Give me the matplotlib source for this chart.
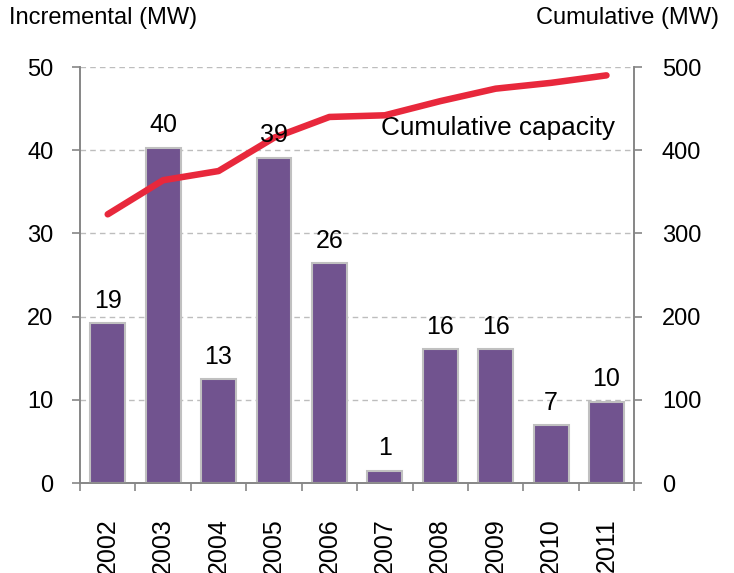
import matplotlib.pyplot as plt
import numpy as np

plt.rcParams['font.family'] = ['Liberation Sans', 'DejaVu Sans']

years = ['2002', '2003', '2004', '2005', '2006', '2007', '2008', '2009', '2010', '2011']
incremental = [19.2, 40.3, 12.5, 39.1, 26.4, 1.5, 16.1, 16.1, 7.0, 9.8]
bar_labels = ['19', '40', '13', '39', '26', '1', '16', '16', '7', '10']
cumulative = [323, 364, 375, 415, 440, 442, 459, 474, 481, 490]

bar_color = '#71538f'
line_color = '#e8283c'
axis_gray = '#868686'
grid_gray = '#bdbdbd'

fig = plt.figure(figsize=(7.34, 5.73), dpi=100)
ax = fig.add_axes([0.109, 0.157, 0.755, 0.726])
ax2 = ax.twinx()

x = np.arange(len(years))
ax.bar(x, incremental, width=0.63, color=bar_color, edgecolor='#c0c0c0',
       linewidth=1.5, zorder=3)

ax.set_xlim(-0.5, len(years) - 0.5)
ax.set_ylim(0, 50)
ax.set_yticks(np.arange(0, 51, 10))
ax.yaxis.grid(True, linestyle=(0, (4, 3)), color=grid_gray, linewidth=1, zorder=0)
ax.set_axisbelow(True)

ax2.plot(x, cumulative, color=line_color, linewidth=4.7, solid_capstyle='round',
         solid_joinstyle='round', zorder=4)
ax2.set_ylim(0, 500)
ax2.set_yticks(np.arange(0, 501, 100))

# bar value labels drawn on top of the line
for xi, v, lab in zip(x, incremental, bar_labels):
    ax2.annotate(lab, xy=(xi, v), xycoords=ax.transData, xytext=(0, 11),
                 textcoords='offset points', ha='center', va='baseline',
                 fontsize=18, zorder=6)

ax2.text(4.93, 427, 'Cumulative capacity', fontsize=18.8, ha='left', va='center')

# x axis: labels at centres, ticks between categories
ax.set_xticks(x)
ax.set_xticklabels(years, rotation=90, fontsize=18)
ax.set_xticks(np.arange(-0.5, len(years), 1), minor=True)
ax.tick_params(axis='x', which='major', length=0, pad=25)
ax.tick_params(axis='x', which='minor', length=6, color=axis_gray, width=1.2)
ax.tick_params(axis='y', labelsize=17, length=6, color=axis_gray, width=1.2, pad=13)
ax2.tick_params(axis='y', labelsize=17, length=6, color=axis_gray, width=1.2, pad=14)

for a in (ax, ax2):
    a.spines['top'].set_visible(False)
    for s in ('left', 'right', 'bottom'):
        a.spines[s].set_color(axis_gray)
        a.spines[s].set_linewidth(1.2)

fig.text(0.012, 0.968, 'Incremental (MW)', fontsize=17, ha='left', va='center')
fig.text(0.980, 0.968, 'Cumulative (MW)', fontsize=17, ha='right', va='center')

fig.savefig('out.png', dpi=100)
